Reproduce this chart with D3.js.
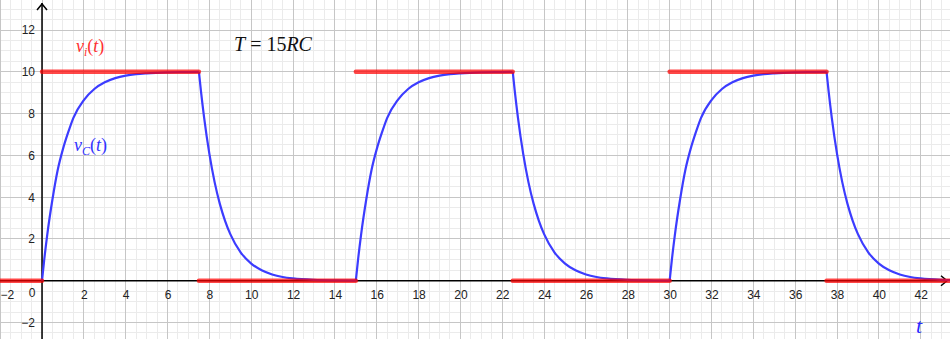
<!DOCTYPE html>
<html>
<head>
<meta charset="utf-8">
<script src="https://cdn.jsdelivr.net/npm/d3@7"></script>
<style>
  html, body { margin: 0; padding: 0; background: #fff; }
  svg { display: block; }
</style>
</head>
<body>
<svg id="chart" width="950" height="339"></svg>
<script>
// square-wave input v_i(t): flat segments
const inStart = [-2.1, 0, 7.5, 15, 22.5, 30, 37.5];
const inEnd   = [0, 7.5, 15, 22.5, 30, 37.5, 43.6];
const inLevel = [0, 10, 0, 10, 0, 10, 0];

// capacitor voltage v_C(t), one period (charge, then discharge)
const chargeT = [0, 0.1, 0.25, 0.5, 0.75, 1, 1.25, 1.5, 2, 2.5, 3, 3.5, 4, 4.5, 5, 6, 7, 7.5];
const chargeV = [0, 0.95, 2.2, 3.9, 5.3, 6.3, 7.1, 7.8, 8.65, 9.18, 9.5, 9.7, 9.82, 9.89, 9.93, 9.975, 9.99, 10];
const dischT  = [7.5, 7.6, 7.75, 8, 8.25, 8.5, 8.75, 9, 9.5, 10, 10.5, 11, 11.5, 12, 13, 14, 15];
const dischV  = [10, 9.05, 7.8, 6.07, 4.72, 3.68, 2.87, 2.23, 1.35, 0.82, 0.5, 0.3, 0.18, 0.11, 0.04, 0.015, 0.005];
const cycleStart = [0, 15, 30];

const xTicks = [-2, 2, 4, 6, 8, 10, 12, 14, 16, 18, 20, 22, 24, 26, 28, 30, 32, 34, 36, 38, 40, 42];
const yTicks = [-2, 2, 4, 6, 8, 10, 12];

const svg = d3.select('#chart'),
  width = +svg.attr('width'),
  height = +svg.attr('height');

const x = d3.scaleLinear().domain([-2.008, 43.40]).range([0, width]);
const y = d3.scaleLinear().domain([-2.79, 13.44]).range([height, 0]);

/*
 * grid
 */
const minorX = d3.range(-2, 44, 0.5), minorY = d3.range(-3, 14, 0.5);
const majorX = d3.range(-2, 44, 2), majorY = d3.range(-2, 14, 2);
const grid = svg.append('g');
grid.selectAll('.mx').data(minorX).enter().append('line')
  .attr('x1', d => x(d)).attr('x2', d => x(d)).attr('y1', 0).attr('y2', height)
  .attr('stroke', '#ebebeb').attr('stroke-width', 1).attr('shape-rendering', 'crispEdges');
grid.selectAll('.my').data(minorY).enter().append('line')
  .attr('y1', d => y(d)).attr('y2', d => y(d)).attr('x1', 0).attr('x2', width)
  .attr('stroke', '#ebebeb').attr('stroke-width', 1).attr('shape-rendering', 'crispEdges');
grid.selectAll('.Mx').data(majorX).enter().append('line')
  .attr('x1', d => x(d)).attr('x2', d => x(d)).attr('y1', 0).attr('y2', height)
  .attr('stroke', '#c6c6c6').attr('stroke-width', 1).attr('shape-rendering', 'crispEdges');
grid.selectAll('.My').data(majorY).enter().append('line')
  .attr('y1', d => y(d)).attr('y2', d => y(d)).attr('x1', 0).attr('x2', width)
  .attr('stroke', '#c6c6c6').attr('stroke-width', 1).attr('shape-rendering', 'crispEdges');

/*
 * axes
 */
const ax = svg.append('g').attr('stroke', '#000').attr('stroke-width', 1.5).attr('fill', 'none');
ax.append('line').attr('x1', 0).attr('x2', width - 3).attr('y1', y(0)).attr('y2', y(0));
ax.append('line').attr('x1', x(0)).attr('x2', x(0)).attr('y1', height).attr('y2', 3);
ax.append('path').attr('d', `M${x(0) - 5},${10} L${x(0)},${4} L${x(0) + 5},${10}`);
ax.append('path').attr('d', `M${width - 9},${y(0) - 5} L${width - 3},${y(0)} L${width - 9},${y(0) + 5}`);

const labelFont = '"Liberation Sans", Arial, sans-serif';
const xAxis = d3.axisBottom(x).tickValues(xTicks).tickSize(0).tickPadding(10)
  .tickFormat(d => d < 0 ? '\u2212' + Math.abs(d) : d);
svg.append('g').attr('transform', `translate(0,${y(0)})`).call(xAxis)
  .call(g => g.select('.domain').remove())
  .selectAll('text').attr('font-family', labelFont).attr('font-size', 12).attr('fill', '#222')
  .filter(d => d < 0).attr('text-anchor', 'start').attr('dx', x(-2) * -1);

const yAxis = d3.axisLeft(y).tickValues(yTicks).tickSize(0).tickPadding(7)
  .tickFormat(d => d < 0 ? '\u2212' + Math.abs(d) : d);
svg.append('g').attr('transform', `translate(${x(0)},0)`).call(yAxis)
  .call(g => g.select('.domain').remove())
  .selectAll('text').attr('font-family', labelFont).attr('font-size', 12).attr('fill', '#222');

svg.append('text').attr('x', x(0) - 10).attr('y', y(0) + 16).attr('text-anchor', 'middle')
  .attr('font-family', labelFont).attr('font-size', 12).attr('fill', '#222').text('0');

/*
 * v_C(t) curve
 */
const line = d3.line().x(d => x(d[0])).y(d => y(d[1])).curve(d3.curveMonotoneX);
const pieces = [];
cycleStart.forEach(function (c) {
  pieces.push(chargeT.map((t, i) => [c + t, chargeV[i]]));
  pieces.push(dischT.map((t, i) => [c + t, dischV[i]]));
});
svg.append('g').selectAll('path').data(pieces).enter().append('path')
  .attr('d', line).attr('fill', 'none')
  .attr('stroke', '#3c3cff').attr('stroke-width', 2.2)
  .attr('stroke-linejoin', 'round');

/*
 * v_i(t) square wave
 */
svg.append('g').selectAll('line').data(inLevel).enter().append('line')
  .attr('x1', (d, i) => x(inStart[i])).attr('x2', (d, i) => x(inEnd[i]))
  .attr('y1', d => y(d)).attr('y2', d => y(d))
  .attr('stroke', '#ff0000').attr('stroke-opacity', 0.72)
  .attr('stroke-width', 4.5).attr('stroke-linecap', 'round');

/*
 * labels
 */
const serif = '"Liberation Serif", "Times New Roman", serif';
const tLab = svg.append('text').attr('x', 234).attr('y', 51)
  .attr('font-family', serif).attr('font-size', 20).attr('fill', '#111')
  .attr('xml:space', 'preserve');
tLab.append('tspan').attr('font-style', 'italic').text('T');
tLab.append('tspan').text(' = 15');
tLab.append('tspan').attr('font-style', 'italic').text('RC');

const vi = svg.append('text').attr('x', 76).attr('y', 52)
  .attr('font-family', serif).attr('font-size', 18).attr('fill', '#ff3030');
vi.append('tspan').attr('font-style', 'italic').text('v');
vi.append('tspan').attr('font-style', 'italic').attr('font-size', 12).attr('dy', 4).text('i');
vi.append('tspan').attr('dy', -4).text('(');
vi.append('tspan').attr('font-style', 'italic').text('t');
vi.append('tspan').text(')');

const vc = svg.append('text').attr('x', 74).attr('y', 151)
  .attr('font-family', serif).attr('font-size', 18).attr('fill', '#3333ff');
vc.append('tspan').attr('font-style', 'italic').text('v');
vc.append('tspan').attr('font-style', 'italic').attr('font-size', 12).attr('dy', 4).text('C');
vc.append('tspan').attr('dy', -4).text('(');
vc.append('tspan').attr('font-style', 'italic').text('t');
vc.append('tspan').text(')');

svg.append('text').attr('x', 916).attr('y', 333)
  .attr('font-family', serif).attr('font-size', 22).attr('font-style', 'italic')
  .attr('fill', '#2a2aff').text('t');
</script>
</body>
</html>
